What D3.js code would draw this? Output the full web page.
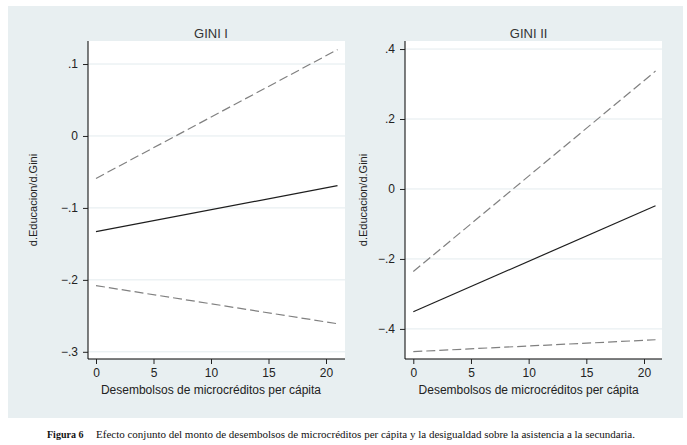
<!DOCTYPE html>
<html>
<head>
<meta charset="utf-8">
<script src="https://cdn.jsdelivr.net/npm/d3@7"></script>
<style>
  html, body { margin: 0; padding: 0; background: #ffffff; }
  svg { display: block; }
</style>
</head>
<body>
<div id="chart"></div>
<script>
// ----- DATA -----
// x values at both ends of each line (desembolsos per capita)
const xEnds = [0, 21];

// GINI I: estimate and confidence band
const gini1Estimate = [-0.133, -0.069];
const gini1Upper = [-0.059, 0.120];
const gini1Lower = [-0.208, -0.261];

// GINI II: estimate and confidence band
const gini2Estimate = [-0.351, -0.048];
const gini2Upper = [-0.236, 0.337];
const gini2Lower = [-0.465, -0.431];

// Tick values and their labels
const xTicks = [0, 5, 10, 15, 20];
const gini1YTicks = [0.1, 0, -0.1, -0.2, -0.3];
const gini1YLabels = [".1", "0", "\u2212.1", "\u2212.2", "\u2212.3"];
const gini2YTicks = [0.4, 0.2, 0, -0.2, -0.4];
const gini2YLabels = [".4", ".2", "0", "\u2212.2", "\u2212.4"];

const panelTitles = ["GINI I", "GINI II"];
const xLabel = "Desembolsos de microcréditos per cápita";
const yLabel = "d.Educacion/d.Gini";
const captionBold = "Figura 6";
const captionText = "Efecto conjunto del monto de desembolsos de microcréditos per cápita y la desigualdad sobre la asistencia a la secundaria.";

// ----- LAYOUT -----
const width = 687, height = 445;
const font = "'Liberation Sans', Arial, sans-serif";

const panels = [
  {
    title: panelTitles[0],
    est: gini1Estimate, up: gini1Upper, lo: gini1Lower,
    yTicks: gini1YTicks, yLabels: gini1YLabels,
    yDomain: [-0.31, 0.132],
    plot: { left: 88, right: 345, top: 41, bottom: 359 },
    xRange: [96, 326],       // pixel positions of x = 0 and x = 20
    yLabelX: 33
  },
  {
    title: panelTitles[1],
    est: gini2Estimate, up: gini2Upper, lo: gini2Lower,
    yTicks: gini2YTicks, yLabels: gini2YLabels,
    yDomain: [-0.486, 0.423],
    plot: { left: 405, right: 662, top: 41, bottom: 359 },
    xRange: [413.3, 644],
    yLabelX: 363
  }
];

const svg = d3.select("#chart")
  .append("svg")
  .attr("width", width)
  .attr("height", height);

// Light graph region behind both panels
svg.append("rect")
  .attr("x", 8).attr("y", 6)
  .attr("width", 675).attr("height", 412)
  .attr("fill", "#e8eff1");

// Draw each panel
panels.forEach(p => {
  const g = svg.append("g");

  const x = d3.scaleLinear().domain([0, 20]).range(p.xRange);
  const y = d3.scaleLinear().domain(p.yDomain).range([p.plot.bottom, p.plot.top]);

  // White plot region
  g.append("rect")
    .attr("x", p.plot.left)
    .attr("y", p.plot.top)
    .attr("width", p.plot.right - p.plot.left)
    .attr("height", p.plot.bottom - p.plot.top)
    .attr("fill", "#ffffff");

  // Horizontal gridlines
  g.selectAll("line.grid")
    .data(p.yTicks)
    .join("line")
      .attr("class", "grid")
      .attr("x1", p.plot.left)
      .attr("x2", p.plot.right)
      .attr("y1", d => y(d))
      .attr("y2", d => y(d))
      .attr("stroke", "#e3ebee")
      .attr("stroke-width", 1);

  // Lines: confidence bounds dashed, estimate solid
  const line = d3.line()
    .x((d, i) => x(xEnds[i]))
    .y(d => y(d));

  [p.up, p.lo].forEach(vals => {
    g.append("path")
      .datum(vals)
      .attr("d", line)
      .attr("fill", "none")
      .attr("stroke", "#808080")
      .attr("stroke-width", 1.2)
      .attr("stroke-dasharray", "9,4");
  });

  g.append("path")
    .datum(p.est)
    .attr("d", line)
    .attr("fill", "none")
    .attr("stroke", "#1e1e1e")
    .attr("stroke-width", 1.2);

  // Y axis
  const yAxis = d3.axisLeft(y)
    .tickValues(p.yTicks)
    .tickSize(5)
    .tickPadding(5)
    .tickFormat((d, i) => p.yLabels[i]);

  g.append("g")
    .attr("transform", `translate(${p.plot.left},0)`)
    .call(yAxis)
    .call(a => a.select(".domain")
      .attr("d", `M0,${p.plot.top}V${p.plot.bottom}`))
    .call(a => a.selectAll("line").attr("stroke", "#222"))
    .call(a => a.selectAll("text")
      .style("font-family", font)
      .style("font-size", "12px")
      .attr("fill", "#222"));

  // X axis
  const xAxis = d3.axisBottom(x)
    .tickValues(xTicks)
    .tickSize(5)
    .tickPadding(4);

  g.append("g")
    .attr("transform", `translate(0,${p.plot.bottom})`)
    .call(xAxis)
    .call(a => a.select(".domain")
      .attr("d", `M${p.plot.left},0H${p.plot.right}`))
    .call(a => a.selectAll("line").attr("stroke", "#222"))
    .call(a => a.selectAll("text")
      .style("font-family", font)
      .style("font-size", "12px")
      .attr("fill", "#222"));

  const cx = (p.xRange[0] + p.xRange[1]) / 2;

  // Panel title
  g.append("text")
    .attr("x", cx)
    .attr("y", 37.5)
    .attr("text-anchor", "middle")
    .style("font-family", font)
    .style("font-size", "13px")
    .attr("fill", "#333")
    .text(p.title);

  // X axis label
  g.append("text")
    .attr("x", cx)
    .attr("y", 394)
    .attr("text-anchor", "middle")
    .style("font-family", font)
    .style("font-size", "12px")
    .attr("fill", "#222")
    .text(xLabel);

  // Y axis label (rotated)
  g.append("text")
    .attr("transform", `translate(${p.yLabelX + 4},${(p.plot.top + p.plot.bottom) / 2}) rotate(-90)`)
    .attr("text-anchor", "middle")
    .style("font-family", font)
    .style("font-size", "11px")
    .attr("fill", "#222")
    .text(yLabel);
});

// Caption below the figure
const caption = svg.append("text")
  .attr("x", 47)
  .attr("y", 438)
  .style("font-family", "'Liberation Serif', 'DejaVu Serif', serif")
  .style("font-size", "10px")
  .attr("fill", "#111");

caption.append("tspan")
  .style("font-weight", "bold")
  .text(captionBold);

caption.append("tspan")
  .attr("x", 96)
  .attr("textLength", 539)
  .attr("lengthAdjust", "spacingAndGlyphs")
  .text(captionText);
</script>
</body>
</html>
